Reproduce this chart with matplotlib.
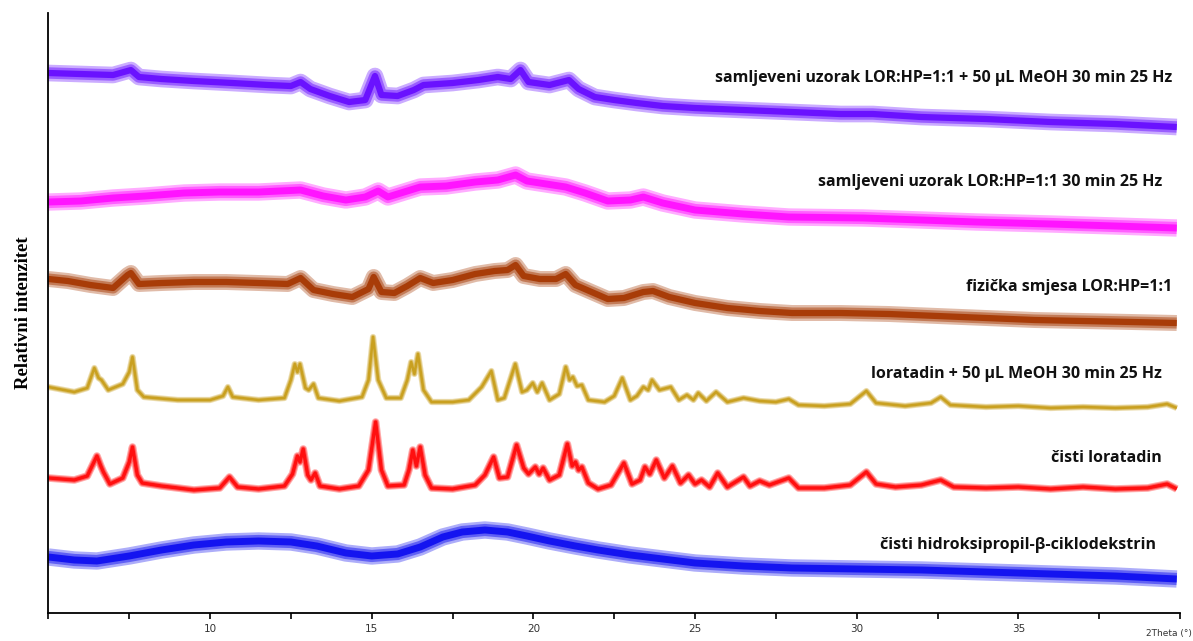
import matplotlib.pyplot as plt
from matplotlib.ticker import MultipleLocator

# 2Theta positions and intensities (arbitrary units, traces stacked)
hp_x = [5.0, 5.8, 6.5, 7.5, 8.5, 9.5, 10.5, 11.5, 12.5, 13.3, 14.2, 15.0, 15.8, 16.5, 17.2, 17.8,
        18.5, 19.2, 19.8, 20.5, 21.3, 22.0, 23.0, 24.0, 25.0, 26.5, 28.0, 30.0, 32.0, 34.0, 36.0,
        38.0, 39.9]
hp_y = [56, 53, 52, 57, 63, 68, 71, 72, 71, 67, 60, 57, 59, 66, 76, 81,
        83, 81, 77, 72, 67, 63, 58, 54, 50, 47, 45, 44, 43, 41, 39,
        37, 34]

lor_x = [5.0, 5.8, 6.2, 6.5, 6.62, 6.7, 6.9, 7.3, 7.5, 7.6, 7.75, 7.9, 8.5, 9.5, 10.3, 10.6,
         10.85, 11.5, 12.3, 12.55, 12.7, 12.78, 12.88, 13.02, 13.12, 13.25, 13.4, 14.0, 14.6,
         14.9, 15.12, 15.3, 15.5, 16.0, 16.15, 16.27, 16.38, 16.5, 16.65, 16.85, 17.5, 18.2,
         18.5, 18.77, 18.95, 19.2, 19.48, 19.7, 19.85, 20.06, 20.18, 20.3, 20.5, 20.8, 21.05,
         21.2, 21.3, 21.4, 21.5, 21.7, 22.0, 22.4, 22.8, 23.05, 23.3, 23.45, 23.6, 23.8, 24.05,
         24.3, 24.55, 24.8, 25.0, 25.2, 25.45, 25.7, 26.0, 26.5, 26.7, 27.0, 27.3, 27.9, 28.2,
         29.0, 29.8, 30.3, 30.6, 31.2, 32.0, 32.6, 33.0, 34.0, 35.0, 36.0, 37.0, 38.0, 39.0,
         39.6, 39.9]
lor_y = [135, 133, 137, 157, 147, 141, 129, 135, 151, 166, 138, 130, 127, 123, 125, 136,
         126, 124, 127, 139, 157, 151, 164, 138, 133, 140, 127, 124, 127,
         143, 191, 143, 127, 128, 143, 163, 147, 166, 138, 125, 124, 128,
         138, 156, 135, 136, 168, 145, 139, 146, 139, 145, 133, 138, 169,
         147, 151, 143, 146, 130, 124, 128, 150, 129, 133, 146, 139, 153, 135,
         147, 130, 138, 129, 133, 126, 140, 126, 136, 127, 132, 128, 135, 125,
         125, 128, 141, 129, 126, 128, 133, 126, 125, 126, 124, 126, 124, 125,
         129, 124]

meoh_x = [5.0, 5.8, 6.2, 6.42, 6.55, 6.64, 6.85, 7.3, 7.5, 7.6, 7.75, 7.95, 9.0, 10.0, 10.4,
          10.55, 10.7, 11.5, 12.3, 12.5, 12.62, 12.7, 12.78, 12.95, 13.05, 13.2, 13.35, 14.0,
          14.7, 14.9, 15.04, 15.2, 15.45, 15.9, 16.1, 16.22, 16.32, 16.43, 16.6, 16.85, 17.5,
          18.0, 18.4, 18.7, 18.9, 19.1, 19.44, 19.65, 19.8, 19.98, 20.12, 20.27, 20.5, 20.8,
          21.0, 21.12, 21.22, 21.35, 21.5, 21.7, 22.2, 22.5, 22.75, 23.0, 23.2, 23.4, 23.55,
          23.67, 23.9, 24.25, 24.5, 24.75, 24.95, 25.1, 25.35, 25.65, 26.0, 26.5, 27.0, 27.5,
          27.9, 28.2, 29.0, 29.8, 30.3, 30.6, 31.5, 32.3, 32.6, 32.9, 34.0, 35.0, 36.0, 37.0,
          38.0, 39.0, 39.6, 39.9]
meoh_y = [226, 221, 225, 245, 235, 233, 223, 229, 241, 256, 223, 216, 213, 213, 217,
          226, 216, 213, 215, 233, 249, 241, 249, 225, 223, 229, 215, 212,
          216, 233, 276, 233, 215, 215, 233, 251, 239, 259, 223, 211, 211,
          213, 226, 242, 213, 215, 249, 221, 223, 230, 221, 230, 213, 219,
          246, 233, 236, 227, 228, 213, 211, 217, 235, 213, 217, 226, 223,
          233, 223, 226, 213, 218, 213, 220, 212, 221, 211, 215, 212, 211,
          214, 208, 207, 209, 222, 210, 207, 210, 216, 208, 206, 207, 205, 206,
          205, 206, 209, 205]

fiz_x = [5.0, 5.6, 6.3, 7.0, 7.45, 7.55, 7.8, 8.5, 9.5, 10.5, 11.5, 12.4, 12.8, 13.2, 13.8,
         14.4, 14.9, 15.06, 15.3, 15.7, 16.1, 16.5, 16.9, 17.5, 18.2, 18.8, 19.2, 19.45, 19.7,
         20.2, 20.7, 21.0, 21.3, 21.8, 22.3, 22.8, 23.4, 23.7, 24.2, 25.0, 26.0, 27.0, 28.0,
         29.5, 31.0, 32.5, 34.0, 35.5, 37.0, 38.5, 39.9]
fiz_y = [334, 332, 328, 325, 338, 340, 329, 330, 331, 331, 330, 329, 335, 323, 319,
         316, 324, 336, 321, 320, 327, 335, 330, 333, 339, 342, 343, 348, 337,
         334, 334, 339, 328, 321, 314, 315, 321, 322, 316, 310, 305, 302, 300,
         300, 299, 297, 295, 293, 292, 291, 290]

mlj_x = [5.0, 6.0, 7.0, 8.0, 9.2, 10.3, 11.5, 12.8, 13.5, 14.2, 14.8, 15.2, 15.5, 16.0, 16.5,
         17.3, 18.2, 18.9, 19.45, 19.8, 20.4, 21.0, 21.6, 22.3, 23.0, 23.4, 24.0, 25.0, 26.5,
         27.9, 30.2, 32.0, 33.7, 36.0, 38.0, 39.9]
mlj_y = [411, 412, 415, 417, 420, 421, 421, 423, 417, 413, 416, 422, 416, 421, 426,
         427, 431, 433, 438, 432, 429, 426, 420, 412, 413, 416, 410, 403, 399,
         396, 395, 393, 391, 389, 387, 385]

mlj_meoh_x = [5.0, 6.0, 7.0, 7.55, 7.8, 8.5, 9.5, 10.7, 11.8, 12.5, 12.8, 13.1, 13.7, 14.3,
              14.8, 15.1, 15.3, 15.8, 16.3, 16.6, 17.5, 18.3, 18.9, 19.3, 19.6, 19.85, 20.5,
              21.1, 21.4, 21.9, 22.5, 23.2, 24.0, 25.0, 26.5, 28.0, 29.5, 30.5, 32.0, 34.0,
              36.0, 38.0, 39.9]
mlj_meoh_y = [540, 539, 538, 543, 536, 534, 532, 530, 528, 527, 531, 524, 517, 511,
              513, 537, 518, 517, 523, 528, 530, 533, 536, 534, 543, 531, 528,
              533, 524, 516, 513, 510, 507, 505, 503, 501, 499, 499, 496, 494,
              491, 489, 486]

labels = [
    "samljeveni uzorak LOR:HP=1:1 + 50 \u00b5L MeOH 30 min 25 Hz",
    "samljeveni uzorak LOR:HP=1:1 30 min 25 Hz",
    "fizi\u010dka smjesa LOR:HP=1:1",
    "loratadin + 50 \u00b5L MeOH 30 min 25 Hz",
    "\u010disti loratadin",
    "\u010disti hidroksipropil-\u03b2-ciklodekstrin",
]
label_x = [39.75, 39.45, 39.75, 39.45, 39.45, 39.25]
label_y = [535, 431, 326, 239, 155, 68]

# (x, y, colour, width of noise band, width of core line)
traces = [
    (mlj_meoh_x, mlj_meoh_y, "#6a12ff", 12.0, 4.5),
    (mlj_x, mlj_y, "#ff14ff", 12.5, 5.0),
    (fiz_x, fiz_y, "#a83c08", 11.5, 4.5),
    (meoh_x, meoh_y, "#c9a020", 4.5, 1.8),
    (lor_x, lor_y, "#ff1010", 5.5, 2.4),
    (hp_x, hp_y, "#1414f0", 12.5, 5.0),
]

fig = plt.figure(figsize=(11.93, 6.41), dpi=100)
ax = fig.add_axes([0.0406, 0.0437, 0.9485, 0.936])

for x, y, c, band, core in traces:
    ax.plot(x, y, color=c, lw=band, alpha=0.35, solid_joinstyle="round", solid_capstyle="butt")
    ax.plot(x, y, color=c, lw=(band + core) / 2, alpha=0.5, solid_joinstyle="round",
            solid_capstyle="butt")
    ax.plot(x, y, color=c, lw=core, solid_joinstyle="round", solid_capstyle="butt")

for txt, tx, ty in zip(labels, label_x, label_y):
    ax.text(tx, ty, txt, ha="right", va="center", fontsize=11.5, fontweight="bold",
            family="Open Sans", color="#111111")

ax.set_xlim(5, 40)
ax.set_ylim(0, 600)
ax.xaxis.set_major_locator(MultipleLocator(5))
ax.xaxis.set_minor_locator(MultipleLocator(2.5))
ax.set_xticks([10, 15, 20, 25, 30, 35])
ax.tick_params(axis="x", which="both", direction="out", length=4, width=1.2,
               labelsize=7.5, labelcolor="#333333", pad=4)
ax.set_yticks([])
for side in ["top", "right"]:
    ax.spines[side].set_visible(False)
for side in ["left", "bottom"]:
    ax.spines[side].set_linewidth(1.3)

ax.set_ylabel("Relativni intenzitet", family="Liberation Serif", fontweight="bold",
              fontsize=13.5, labelpad=12)
fig.text(0.999, 0.005, "2Theta (\u00b0)", ha="right", va="bottom", fontsize=6.5, color="#333333")

fig.savefig("out.png", dpi=100)
